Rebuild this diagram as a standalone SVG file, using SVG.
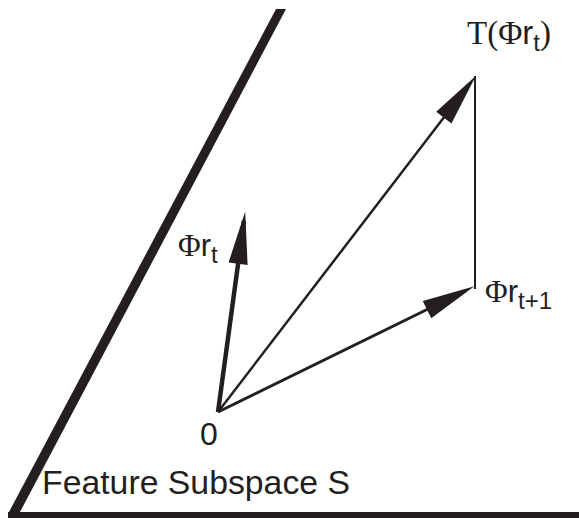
<svg xmlns="http://www.w3.org/2000/svg" width="579" height="518" viewBox="0 0 579 518">
<style>
.sans{font-family:"Liberation Sans",Arial,sans-serif;fill:#231f20}
.serif{font-family:"Liberation Serif","Times New Roman",serif;fill:#231f20}
.conn{stroke:#231f20;fill:none}
</style>
<defs>
<marker id="ah" markerUnits="userSpaceOnUse" markerWidth="60" markerHeight="30" viewBox="-2 -10 50 20" refX="36" refY="0" orient="auto">
<path d="M0,-8 L44,0 L0,8 Z" fill="#231f20"/>
</marker>
</defs>
<rect width="579" height="518" fill="#fff"/>
<g id="subspace">
<polygon points="276,9 286,9 20,512 9,512" fill="#231f20"/>
<rect x="8" y="512" width="571" height="6" fill="#231f20"/>
</g>
<g id="connectors">
<line class="conn" x1="218" y1="412" x2="243.9" y2="220.9" stroke-width="4.5" marker-end="url(#ah)"/>
<line class="conn" x1="218" y1="412" x2="470.1" y2="83.3" stroke-width="2.5" marker-end="url(#ah)"/>
<line class="conn" x1="218" y1="412" x2="465.8" y2="290.5" stroke-width="3" marker-end="url(#ah)"/>
<line class="conn" x1="475" y1="76" x2="475" y2="289" stroke-width="2"/>
</g>
<g id="label-T">
<text x="467" y="44" font-size="33"><tspan class="serif">T(Φ</tspan><tspan class="sans">r</tspan><tspan class="sans" font-size="24" dy="7">t</tspan><tspan class="serif" dy="-7">)</tspan></text>
</g>
<g id="label-phirt">
<text x="178" y="256" font-size="31"><tspan class="serif">Φ</tspan><tspan class="sans">r</tspan><tspan class="sans" font-size="24" dy="7">t</tspan></text>
</g>
<g id="label-phirt1">
<text x="485" y="302" font-size="31"><tspan class="serif">Φ</tspan><tspan class="sans">r</tspan><tspan class="sans" font-size="24" dy="7">t+1</tspan></text>
</g>
<g id="label-origin">
<text class="sans" x="200" y="445" font-size="32">0</text>
</g>
<g id="label-S">
<text class="sans" x="42" y="494" font-size="33" textLength="308" lengthAdjust="spacingAndGlyphs">Feature Subspace S</text>
</g>
</svg>
